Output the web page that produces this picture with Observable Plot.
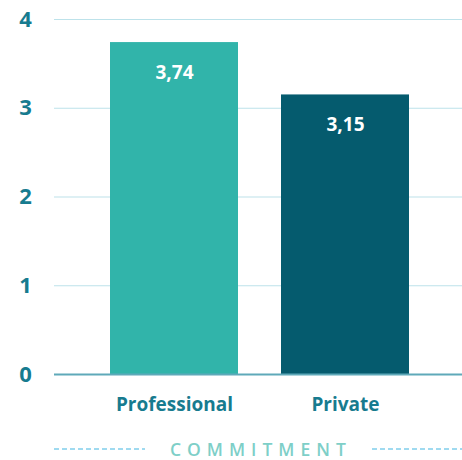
<!DOCTYPE html>
<html>
<head>
<meta charset="utf-8">
<script src="https://cdn.jsdelivr.net/npm/d3@7"></script>
<script src="https://cdn.jsdelivr.net/npm/@observablehq/plot@0.6"></script>
<style>
  body { margin: 0; background: #fff; font-family: "Open Sans", sans-serif; }
  #wrap { width: 462px; }
  .caption { position: relative; width: 462px; height: 30px; margin-top: 7px; }
  .dash { position: absolute; top: 14px; height: 1.5px; background: repeating-linear-gradient(to right, #9fdaf0 0 5px, transparent 5px 8px); }
  .caption span { position: absolute; left: 170px; top: 3px; font-family: "Open Sans", sans-serif; font-weight: 600; font-size: 17.5px; letter-spacing: 6px; color: #7ecfc8; white-space: nowrap; }
</style>
</head>
<body>
<div id="wrap"></div>
<script>
const categories = ["Professional", "Private"];
const values = [3.74, 3.15];
const valueLabels = ["3,74", "3,15"];
const barColors = ["#31b4aa", "#055b6e"];
const yTicks = [0, 1, 2, 3, 4];

const data = categories.map((c, i) => ({category: c, value: values[i], label: valueLabels[i], color: barColors[i]}));

const chart = Plot.plot({
  width: 462,
  height: 427,
  marginTop: 19,
  marginBottom: 53,
  marginLeft: 54,
  marginRight: 0,
  style: {fontFamily: "Open Sans, sans-serif", background: "#fff", overflow: "visible"},
  x: {domain: categories, range: [54, 465], paddingInner: 0.25, paddingOuter: 0.32, axis: null},
  y: {domain: [0, 4], ticks: yTicks, axis: null},
  marks: [
    Plot.ruleY(yTicks.filter(d => d > 0), {stroke: "#bde2ea", strokeWidth: 1.2}),
    Plot.barY(data, {x: "category", y: "value", fill: "color"}),
    Plot.ruleY([0], {stroke: "#5fa9b9", strokeWidth: 2}),
    Plot.text(yTicks, {y: d => d, text: d => String(d), frameAnchor: "left", dx: -29, fill: "#177b8f", fontSize: 22, fontWeight: 700, textAnchor: "middle"}),
    Plot.text(data, {x: "category", y: "value", text: "label", dy: 30, fill: "#fff", fontSize: 19, fontWeight: 700, letterSpacing: 0.3}),
    Plot.text(data, {x: "category", y: 0, text: "category", dy: 30, fill: "#177b8f", fontSize: 19, fontWeight: 700, letterSpacing: 0.4})
  ]
});

document.getElementById("wrap").appendChild(chart);
const cap = document.createElement("div");
cap.className = "caption";
cap.innerHTML = '<div class="dash" style="left:54px;width:91px"></div><span>COMMITMENT</span><div class="dash" style="left:372px;width:90px"></div>';
document.getElementById("wrap").appendChild(cap);
</script>
</body>
</html>
